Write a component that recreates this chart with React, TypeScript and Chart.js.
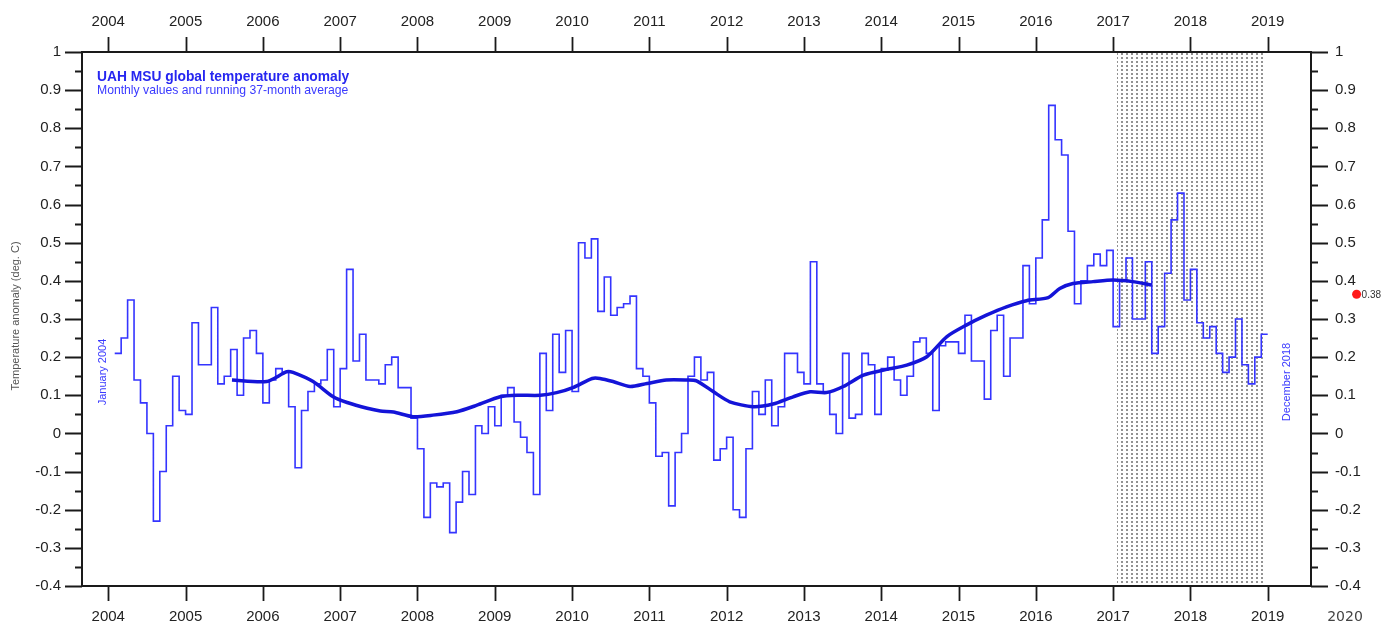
import { useEffect, useRef } from "react";
import { Chart, registerables } from "chart.js";
Chart.register(...registerables);

// ---- data ----
const yearTicks = [2004, 2005, 2006, 2007, 2008, 2009, 2010, 2011, 2012, 2013, 2014, 2015, 2016, 2017, 2018, 2019];
const yTicks = [-0.4, -0.3, -0.2, -0.1, 0, 0.1, 0.2, 0.3, 0.4, 0.5, 0.6, 0.7, 0.8, 0.9, 1];
const yMinorTicks = [-0.35, -0.25, -0.15, -0.05, 0.05, 0.15, 0.25, 0.35, 0.45, 0.55, 0.65, 0.75, 0.85, 0.95];

const anom2004 = [0.21, 0.25, 0.35, 0.14, 0.08, 0.0, -0.23, -0.1, 0.02, 0.15, 0.06, 0.05];
const anom2005 = [0.29, 0.18, 0.18, 0.33, 0.13, 0.15, 0.22, 0.1, 0.25, 0.27, 0.21, 0.08];
const anom2006 = [0.14, 0.17, 0.16, 0.07, -0.09, 0.06, 0.11, 0.13, 0.14, 0.22, 0.07, 0.17];
const anom2007 = [0.43, 0.19, 0.26, 0.14, 0.14, 0.13, 0.18, 0.2, 0.12, 0.12, 0.04, -0.04];
const anom2008 = [-0.22, -0.13, -0.14, -0.13, -0.26, -0.18, -0.1, -0.16, 0.02, 0.0, 0.07, 0.02];
const anom2009 = [0.1, 0.12, 0.03, -0.01, -0.05, -0.16, 0.21, 0.06, 0.26, 0.16, 0.27, 0.11];
const anom2010 = [0.5, 0.46, 0.51, 0.32, 0.41, 0.31, 0.33, 0.34, 0.36, 0.17, 0.15, 0.08];
const anom2011 = [-0.06, -0.05, -0.19, -0.05, 0.0, 0.15, 0.2, 0.14, 0.16, -0.07, -0.04, -0.01];
const anom2012 = [-0.2, -0.22, -0.04, 0.11, 0.05, 0.14, 0.02, 0.07, 0.21, 0.21, 0.16, 0.13];
const anom2013 = [0.45, 0.13, 0.11, 0.05, 0.0, 0.21, 0.04, 0.05, 0.21, 0.18, 0.05, 0.17];
const anom2014 = [0.2, 0.14, 0.1, 0.15, 0.24, 0.25, 0.21, 0.06, 0.23, 0.24, 0.24, 0.21];
const anom2015 = [0.31, 0.19, 0.19, 0.09, 0.27, 0.31, 0.15, 0.25, 0.25, 0.44, 0.34, 0.46];
const anom2016 = [0.56, 0.86, 0.77, 0.73, 0.53, 0.34, 0.4, 0.44, 0.47, 0.44, 0.48, 0.28];
const anom2017 = [0.4, 0.46, 0.3, 0.3, 0.45, 0.21, 0.28, 0.42, 0.56, 0.63, 0.35, 0.43];
const anom2018 = [0.29, 0.25, 0.28, 0.21, 0.16, 0.2, 0.3, 0.18, 0.13, 0.2, 0.26, 0.26];

const firstYear = 2004;
const monthlyValues = [
  ...anom2004, ...anom2005, ...anom2006, ...anom2007, ...anom2008,
  ...anom2009, ...anom2010, ...anom2011, ...anom2012, ...anom2013,
  ...anom2014, ...anom2015, ...anom2016, ...anom2017, ...anom2018,
];

// running 37-month average
const runYears = [
  2005.6, 2006.05, 2006.31, 2006.39, 2006.65, 2006.91, 2007.09, 2007.35, 2007.52, 2007.69,
  2007.94, 2008.2, 2008.51, 2008.77, 2009.07, 2009.29, 2009.59, 2009.8, 2010.02, 2010.26,
  2010.36, 2010.53, 2010.75, 2010.97, 2011.22, 2011.48, 2011.61, 2011.83, 2012.04, 2012.34,
  2012.6, 2012.86, 2013.08, 2013.29, 2013.51, 2013.77, 2014.07, 2014.33, 2014.59, 2014.85,
  2015.1, 2015.36, 2015.62, 2015.88, 2016.16, 2016.31, 2016.48, 2016.74, 2017.0, 2017.25, 2017.5,
];
const runValues = [
  0.14, 0.136, 0.162, 0.16, 0.136, 0.096, 0.081, 0.066, 0.059, 0.056,
  0.044, 0.048, 0.057, 0.074, 0.096, 0.1, 0.1, 0.107, 0.121, 0.144,
  0.144, 0.136, 0.123, 0.131, 0.14, 0.14, 0.138, 0.109, 0.083, 0.07,
  0.077, 0.096, 0.109, 0.107, 0.123, 0.153, 0.168, 0.179, 0.201, 0.254,
  0.284, 0.31, 0.332, 0.348, 0.356, 0.38, 0.393, 0.398, 0.402, 0.398, 0.389,
];

const shadeFrom = 2017.05;
const shadeTo = 2018.94;
const redDotYear = 2020.15;
const redDotValue = 0.365;
const redDotLabel = "0.38";
const extraYearLabel = 2020;

const FONT = "'Liberation Sans', Arial, sans-serif";

function makePattern(ctx: CanvasRenderingContext2D) {
  const c = document.createElement("canvas");
  c.width = 5;
  c.height = 4;
  const g = c.getContext("2d")!;
  g.fillStyle = "rgba(100,100,100,0.7)";
  g.fillRect(1, 1, 2, 2);
  return ctx.createPattern(c, "repeat")!;
}

const decor = {
  id: "decor",
  beforeDatasetsDraw(chart: any) {
    const { ctx, chartArea: a, scales } = chart;
    const x = scales.x;
    const x0 = x.getPixelForValue(shadeFrom);
    const x1 = x.getPixelForValue(shadeTo);
    ctx.save();
    ctx.fillStyle = makePattern(ctx);
    ctx.fillRect(x0, a.top, x1 - x0, a.bottom - a.top);
    ctx.restore();
  },
  afterDraw(chart: any) {
    const { ctx, chartArea: a, scales } = chart;
    const x = scales.x;
    const y = scales.y;
    ctx.save();
    // frame
    ctx.strokeStyle = "#1a1a1a";
    ctx.lineWidth = 2;
    ctx.strokeRect(a.left, a.top, a.right - a.left, a.bottom - a.top);
    // tick marks
    ctx.lineWidth = 1.8;
    ctx.beginPath();
    for (const v of yearTicks) {
      const px = Math.round(x.getPixelForValue(v)) + 0.5;
      ctx.moveTo(px, a.bottom);
      ctx.lineTo(px, a.bottom + 15);
      ctx.moveTo(px, a.top);
      ctx.lineTo(px, a.top - 15);
    }
    for (const v of yTicks) {
      const py = Math.round(y.getPixelForValue(v)) + 0.5;
      ctx.moveTo(a.left - 17, py);
      ctx.lineTo(a.left, py);
      ctx.moveTo(a.right, py);
      ctx.lineTo(a.right + 17, py);
    }
    for (const v of yMinorTicks) {
      const py = Math.round(y.getPixelForValue(v)) + 0.5;
      ctx.moveTo(a.left - 7, py);
      ctx.lineTo(a.left, py);
      ctx.moveTo(a.right, py);
      ctx.lineTo(a.right + 7, py);
    }
    ctx.stroke();

    // titles
    ctx.fillStyle = "#2626f0";
    ctx.textAlign = "left";
    ctx.textBaseline = "middle";
    ctx.font = `bold 13.8px ${FONT}`;
    ctx.fillText("UAH MSU global temperature anomaly", 97, 77);
    ctx.font = `12.2px ${FONT}`;
    ctx.fillStyle = "#3a3aff";
    ctx.fillText("Monthly values and running 37-month average", 97, 91);

    // rotated texts
    const rot = (text: string, cx: number, cy: number, font: string, color: string) => {
      ctx.save();
      ctx.translate(cx, cy);
      ctx.rotate(-Math.PI / 2);
      ctx.font = font;
      ctx.fillStyle = color;
      ctx.textAlign = "center";
      ctx.textBaseline = "middle";
      ctx.fillText(text, 0, 0);
      ctx.restore();
    };
    rot("Temperature anomaly (deg. C)", 16, 316, `11px ${FONT}`, "#555");
    rot("January 2004", 103, 372, `11px ${FONT}`, "#3a3aff");
    rot("December 2018", 1287, 382, `11px ${FONT}`, "#3a3aff");

    // extra year label
    ctx.font = `14px 'DejaVu Sans', sans-serif`;
    ctx.fillStyle = "#444";
    ctx.textAlign = "center";
    ctx.textBaseline = "middle";
    ctx.fillText(String(extraYearLabel), x.getPixelForValue(extraYearLabel), 617);

    // red dot
    const dx = x.getPixelForValue(redDotYear);
    const dy = y.getPixelForValue(redDotValue);
    ctx.fillStyle = "#ff1a1a";
    ctx.beginPath();
    ctx.arc(dx, dy, 4.5, 0, Math.PI * 2);
    ctx.fill();
    ctx.fillStyle = "#333";
    ctx.font = `10px ${FONT}`;
    ctx.textAlign = "left";
    ctx.fillText(redDotLabel, dx + 5, dy + 1);
    ctx.restore();
  },
};

const setTicks = (vals: number[]) => (scale: any) => {
  scale.ticks = vals.map((value) => ({ value }));
};
const fmtY = (v: any) => (Math.abs(v) < 1e-9 ? "0" : String(Math.round(v * 10) / 10));

export default function App() {
  const ref = useRef<HTMLCanvasElement>(null);
  useEffect(() => {
    const monthlyPoints = monthlyValues.map((v, i) => ({ x: firstYear + (i + 1) / 12, y: v }));
    const runPoints = runValues.map((v, i) => ({ x: runYears[i], y: v }));
    const tickFont = { family: FONT, size: 15 };
    const chart = new Chart(ref.current!, {
      type: "line",
      data: {
        datasets: [
          {
            data: runPoints,
            borderColor: "#1414d8",
            borderWidth: 3.5,
            pointRadius: 0,
            tension: 0.25,
            fill: false,
          },
          {
            data: monthlyPoints,
            borderColor: "#3434ff",
            borderWidth: 1.6,
            pointRadius: 0,
            stepped: "before",
            fill: false,
          },
        ],
      },
      options: {
        animation: false,
        responsive: false,
        events: [],
        layout: { padding: 0 },
        plugins: { legend: { display: false }, tooltip: { enabled: false } },
        scales: {
          x: {
            type: "linear",
            position: "bottom",
            min: 2003.66,
            max: 2019.56,
            afterBuildTicks: setTicks(yearTicks),
            afterFit: (s: any) => { s.height = 38; },
            grid: { display: false, drawTicks: false },
            border: { display: false },
            ticks: { font: tickFont, color: "#222", padding: 22, maxRotation: 0, autoSkip: false, callback: (v: any) => String(v) },
          },
          xTop: {
            type: "linear",
            position: "top",
            min: 2003.66,
            max: 2019.56,
            afterBuildTicks: setTicks(yearTicks),
            afterFit: (s: any) => { s.height = 52; },
            grid: { display: false, drawTicks: false },
            border: { display: false },
            ticks: { font: tickFont, color: "#222", padding: 21, maxRotation: 0, autoSkip: false, callback: (v: any) => String(v) },
          },
          y: {
            type: "linear",
            position: "left",
            min: -0.4,
            max: 1,
            afterBuildTicks: setTicks(yTicks),
            afterFit: (s: any) => { s.width = 82; },
            grid: { display: false, drawTicks: false },
            border: { display: false },
            ticks: { font: tickFont, color: "#222", padding: 21, autoSkip: false, callback: fmtY },
          },
          yRight: {
            type: "linear",
            position: "right",
            min: -0.4,
            max: 1,
            afterBuildTicks: setTicks(yTicks),
            afterFit: (s: any) => { s.width = 82; },
            grid: { display: false, drawTicks: false },
            border: { display: false },
            ticks: { font: tickFont, color: "#222", padding: 24, autoSkip: false, callback: fmtY },
          },
        },
      },
      plugins: [decor],
    } as any);
    return () => chart.destroy();
  }, []);
  return (
    <div style={{ position: "absolute", left: 0, top: 0, width: 1393, height: 624, background: "#fff" }}>
      <canvas ref={ref} width={1393} height={624} style={{ display: "block" }} />
    </div>
  );
}
